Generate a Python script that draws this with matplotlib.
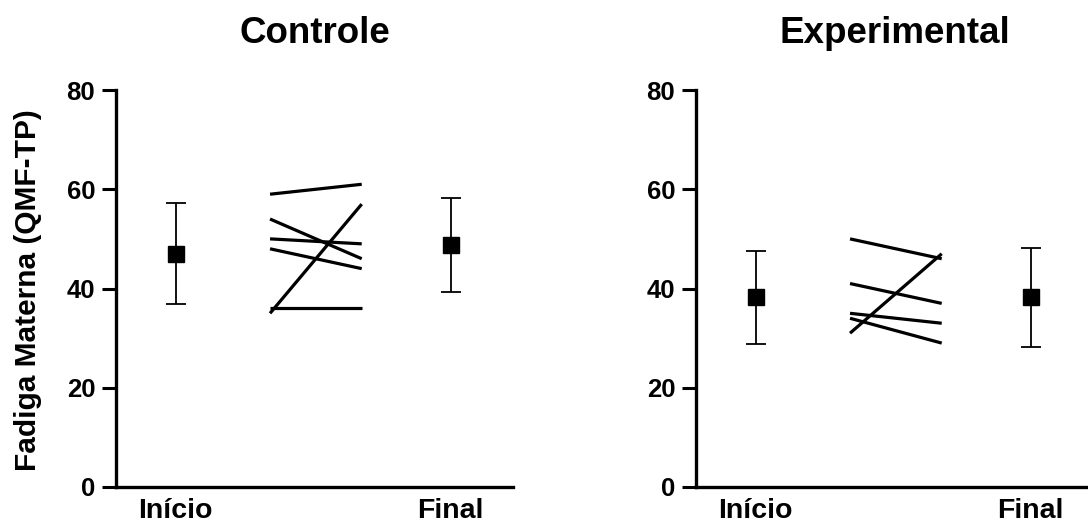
import matplotlib
matplotlib.use("Agg")
import matplotlib.pyplot as plt
import numpy as np

plt.rcParams['font.family'] = ['Liberation Sans', 'DejaVu Sans']
plt.rcParams['font.weight'] = 'bold'

# ---- data ----
groups = ["Controle", "Experimental"]
x_labels = ["Início", "Final"]
ylabel = "Fadiga Materna (QMF-TP)"
y_ticks = [0, 20, 40, 60, 80]

ctrl_inicio_mean, ctrl_inicio_sd = 47.0, 10.2
ctrl_final_mean, ctrl_final_sd = 48.8, 9.5
ctrl_pre = [59, 54, 50, 48, 35, 36]
ctrl_post = [61, 46, 49, 44, 57, 36]

exp_inicio_mean, exp_inicio_sd = 38.2, 9.3
exp_final_mean, exp_final_sd = 38.2, 9.9
exp_pre = [50, 41, 35, 34, 31]
exp_post = [46, 37, 33, 29, 47]

panels = [
    (groups[0], ctrl_inicio_mean, ctrl_inicio_sd, ctrl_final_mean, ctrl_final_sd, ctrl_pre, ctrl_post),
    (groups[1], exp_inicio_mean, exp_inicio_sd, exp_final_mean, exp_final_sd, exp_pre, exp_post),
]

W, H = 1088, 525
fig = plt.figure(figsize=(W / 100, H / 100), dpi=100)

ax_left_px = [116, 696]
ax_w_px = 397
ax_bottom_px = 487
ax_top_px = 90

for (title, m0, s0, m1, s1, pre, post), lx in zip(panels, ax_left_px):
    ax = fig.add_axes([lx / W, (H - ax_bottom_px) / H, ax_w_px / W, (ax_bottom_px - ax_top_px) / H])
    # paired lines at positions 1 and 2
    for a, b in zip(pre, post):
        ax.plot([1.03, 2.03], [a, b], color='black', lw=2.3, solid_capstyle='butt')
    # means with SD
    ax.errorbar([0], [m0], yerr=[s0], fmt='s', color='black', ms=11,
                elinewidth=1.3, capsize=7, capthick=1.3)
    ax.errorbar([3], [m1], yerr=[s1], fmt='s', color='black', ms=11,
                elinewidth=1.3, capsize=7, capthick=1.3)

    ax.set_xlim(-0.65, 3.68)
    ax.set_ylim(0, 80)
    ax.set_yticks(y_ticks)
    ax.set_xticks([0, 3])
    ax.set_xticklabels(x_labels, fontsize=20.5, fontweight='bold')
    ax.tick_params(axis='y', length=10, width=2.2, labelsize=18.5, pad=5)
    ax.tick_params(axis='x', length=0, pad=8)
    for lab in ax.get_yticklabels():
        lab.set_fontweight('bold')
    for sp in ['top', 'right']:
        ax.spines[sp].set_visible(False)
    for sp in ['left', 'bottom']:
        ax.spines[sp].set_linewidth(2.4)
    ax.text(0.5, 1 + 47 / 397, title, transform=ax.transAxes, ha='center',
            va='baseline', fontsize=26.5, fontweight='bold')

fig.text(28 / W, (H - 290) / H, ylabel, rotation=90, ha='center', va='center',
         fontsize=21.5, fontweight='bold')

fig.savefig("out.png", dpi=100)
